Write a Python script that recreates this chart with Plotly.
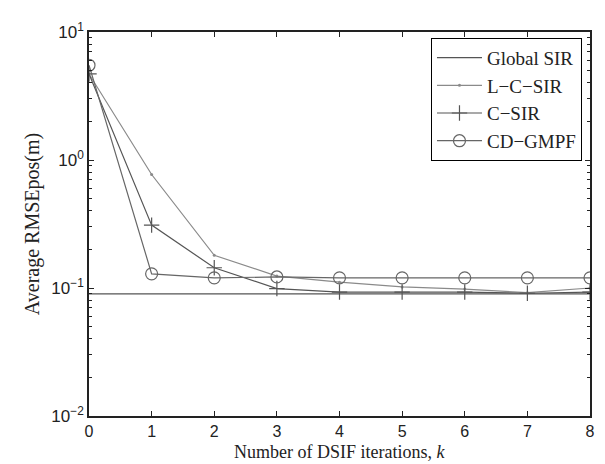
import plotly.graph_objects as go

k = [0, 1, 2, 3, 4, 5, 6, 7, 8]
global_sir = [0.09, 0.09, 0.09, 0.09, 0.09, 0.09, 0.09, 0.09, 0.09]
l_c_sir = [4.7, 0.77, 0.18, 0.124, 0.111, 0.102, 0.098, 0.092, 0.1]
c_sir = [4.7, 0.31, 0.144, 0.099, 0.093, 0.093, 0.093, 0.091, 0.093]
cd_gmpf = [5.5, 0.129, 0.12, 0.122, 0.12, 0.12, 0.12, 0.12, 0.12]

x_ticks = [0, 1, 2, 3, 4, 5, 6, 7, 8]
y_tickvals = [0.01, 0.1, 1, 10]
y_ticktext = ["10<sup>−2</sup>", "10<sup>−1</sup>", "10<sup>0</sup>", "10<sup>1</sup>"]
y_minor = [m * d for d in [0.01, 0.1, 1] for m in [2, 3, 4, 5, 6, 7, 8, 9]]

fig = go.Figure()
fig.add_trace(go.Scatter(x=k, y=global_sir, name="Global SIR", mode="lines",
                         line=dict(color="#555555", width=1.3)))
fig.add_trace(go.Scatter(x=k, y=l_c_sir, name="L−C−SIR", mode="lines+markers",
                         line=dict(color="#8a8a8a", width=1.2),
                         marker=dict(symbol="circle", size=3, color="#8a8a8a")))
fig.add_trace(go.Scatter(x=k, y=c_sir, name="C−SIR", mode="lines+markers",
                         line=dict(color="#555555", width=1.2),
                         marker=dict(symbol="cross-thin-open", size=11,
                                     line=dict(color="#555555", width=1.2))))
fig.add_trace(go.Scatter(x=k, y=cd_gmpf, name="CD−GMPF", mode="lines+markers",
                         line=dict(color="#666666", width=1.2),
                         marker=dict(symbol="circle-open", size=12, color="#666666",
                                     line=dict(color="#666666", width=1.2))))

fig.update_layout(
    width=605, height=464,
    margin=dict(l=81, r=23, t=19, b=56),
    paper_bgcolor="white", plot_bgcolor="white",
    showlegend=True,
    legend=dict(x=0.984, y=0.985, xanchor="right", yanchor="top",
                bordercolor="black", borderwidth=1, bgcolor="white",
                font=dict(family="Liberation Serif", size=19, color="#222222"),
                tracegroupgap=0, itemwidth=45),
    xaxis=dict(range=[0, 8], tickvals=x_ticks, ticks="inside", ticklen=5,
               tickcolor="#222222", showline=True, linecolor="#222222", linewidth=1.5,
               mirror="allticks", showgrid=False, zeroline=False,
               tickfont=dict(family="Liberation Sans", size=16, color="#222222")),
    yaxis=dict(type="log", range=[-2, 1], tickvals=y_tickvals, ticktext=y_ticktext,
               ticks="inside", ticklen=5, tickcolor="#222222",
               showline=True, linecolor="#222222", linewidth=1.5,
               mirror="allticks", showgrid=False, zeroline=False,
               minor=dict(tickmode="array", tickvals=y_minor, ticks="inside", ticklen=3,
                          tickcolor="#222222", showgrid=False),
               tickfont=dict(family="Liberation Sans", size=17, color="#222222"),
               title=dict(text="Average RMSEpos(m)", standoff=6,
                          font=dict(family="Liberation Serif", size=20, color="#222222"))),
    annotations=[dict(text="Number of DSIF iterations, <i>k</i>", xref="paper", yref="paper",
                      x=0.5, y=0, yshift=-24, xanchor="center", yanchor="top", showarrow=False,
                      font=dict(family="Liberation Serif", size=18, color="#222222"))],
)

fig.write_html("out.html")
